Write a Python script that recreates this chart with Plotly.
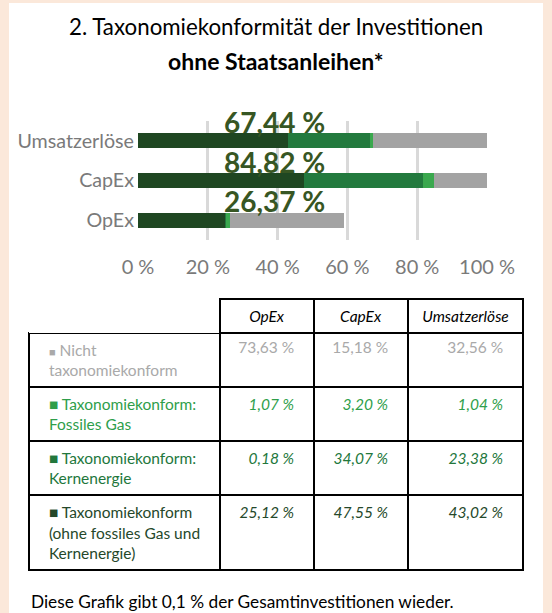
import plotly.graph_objects as go

# ---------------- data ----------------
categories = ["OpEx", "CapEx", "Umsatzerlöse"]
nicht_konform = [73.63, 15.18, 32.56]          # table values
fossiles_gas = [1.07, 3.20, 1.04]
kernenergie = [0.18, 34.07, 23.38]
ohne_gas_kern = [25.12, 47.55, 43.02]
# grey segment as it is drawn in the picture (OpEx bar ends at ~59 %)
nicht_konform_bar = [32.56, 15.18, 32.56]

tick_vals = [0, 20, 40, 60, 80, 100]
tick_text = ["0 %", "20 %", "40 %", "60 %", "80 %", "100 %"]

row_labels = [
    "<span style='font-size:11px'>■</span> Nicht<br>taxonomiekonform",
    "■ Taxonomiekonform:<br>Fossiles Gas",
    "■ Taxonomiekonform:<br>Kernenergie",
    "■ Taxonomiekonform<br>(ohne fossiles Gas und<br>Kernenergie)",
]
header_cols = ["", "OpEx", "CapEx", "Umsatzerlöse"]

title_line1 = "2. Taxonomiekonformität der Investitionen"
title_line2 = "ohne Staatsanleihen*"
footer = "Diese Grafik gibt 0,1 % der Gesamtinvestitionen wieder."

# ---------------- style ----------------
W, H = 552, 613
FONT = "Lato"
C_DARK = "#1F4722"
C_KERN = "#237A3E"
C_GAS = "#3AA84E"
C_GREY = "#A3A3A3"
C_LABEL = "#375623"
C_AXIS = "#7A7A7A"
T_GREY = "#A9A9A9"
T_GAS = "#2E9E4A"
T_KERN = "#22773C"
T_DARK = "#25482A"
TFS = 15.5


def px_x(p):
    return p / W


def px_y(p):
    return 1 - p / H


def fmt(v):
    return f"{v:.2f}".replace(".", ",") + " %"


fig = go.Figure()

series = [
    ("Taxonomiekonform (ohne fossiles Gas und Kernenergie)", ohne_gas_kern, C_DARK),
    ("Taxonomiekonform: Kernenergie", kernenergie, C_KERN),
    ("Taxonomiekonform: Fossiles Gas", fossiles_gas, C_GAS),
    ("Nicht taxonomiekonform", nicht_konform_bar, C_GREY),
]
for name, vals, col in series:
    fig.add_trace(go.Bar(
        y=categories, x=vals, orientation="h", name=name,
        marker=dict(color=col, line=dict(width=0)), width=0.38,
        hoverinfo="x+name",
    ))

# data labels: total taxonomy-conform share
for i, cat in enumerate(categories):
    total = ohne_gas_kern[i] + kernenergie[i] + fossiles_gas[i]
    fig.add_annotation(
        x=39.2, y=cat, xref="x", yref="y", text=f"<b>{fmt(total)}</b>",
        showarrow=False, yshift=19, font=dict(family=FONT, size=28, color=C_LABEL),
    )

# ---------------- table ----------------
nb = "\u00a0"
pad_l = nb * 3
pad_r = nb * 3
body_values = [[pad_l + t.replace("<br>", "<br>" + pad_l) for t in row_labels]]
for j in range(3):
    body_values.append([
        fmt(nicht_konform[j]) + pad_r,
        "<i>" + fmt(fossiles_gas[j]) + "</i>" + pad_r,
        "<i>" + fmt(kernenergie[j]) + "</i>" + pad_r,
        "<i>" + fmt(ohne_gas_kern[j]) + "</i>" + pad_r,
    ])

row_colors = [T_GREY, T_GAS, T_KERN, T_DARK]
fig.add_trace(go.Table(
    domain=dict(x=[px_x(29), px_x(523)], y=[px_y(590), px_y(299)]),
    columnwidth=[191, 94, 94, 115],
    header=dict(
        values=["<i>" + h + "</i>" if h else "" for h in header_cols],
        align="center",
        font=dict(family=FONT, size=TFS, color="black"),
        fill=dict(color="white"),
        line=dict(color="black", width=[0, 2, 2, 2]),
        height=26,
    ),
    cells=dict(
        values=body_values,
        align=["left", "right", "right", "right"],
        font=dict(family=FONT, size=TFS, color=[row_colors] * 4),
        fill=dict(color="white"),
        line=dict(color="black", width=2),
        height=25,
    ),
))

# ---------------- text ----------------
fig.add_annotation(x=0.5, y=px_y(26), xref="paper", yref="paper", text=title_line1,
                   showarrow=False, yanchor="middle",
                   font=dict(family=FONT, size=22.3, color="black"))
fig.add_annotation(x=0.5, y=px_y(61), xref="paper", yref="paper", text=f"<b>{title_line2}</b>",
                   showarrow=False, yanchor="middle",
                   font=dict(family=FONT, size=23, color="black"))
fig.add_annotation(x=px_x(29), y=px_y(601), xref="paper", yref="paper", text=footer,
                   showarrow=False, xanchor="left", yanchor="middle",
                   font=dict(family=FONT, size=17.3, color="black"))

# white panel
fig.add_shape(type="rect", xref="paper", yref="paper", x0=px_x(9), x1=px_x(543),
              y0=-0.01, y1=px_y(3), fillcolor="white", line=dict(width=0), layer="below")

fig.update_layout(
    width=W, height=H, margin=dict(l=0, r=0, t=0, b=0, autoexpand=False),
    paper_bgcolor="#FBE8DA", plot_bgcolor="rgba(0,0,0,0)",
    barmode="stack", showlegend=False,
    font=dict(family=FONT),
    xaxis=dict(domain=[px_x(138), px_x(487)], range=[0, 100], tickvals=tick_vals,
               ticktext=tick_text, showgrid=True, gridcolor="#D9D9D9", gridwidth=2.5,
               zeroline=False, showline=False, ticks="", ticklabelstandoff=13,
               automargin=False,
               tickfont=dict(family=FONT, size=20, color=C_AXIS), fixedrange=True),
    yaxis=dict(domain=[px_y(240), px_y(121)], range=[-0.5, 2.5], showgrid=False,
               zeroline=False, showline=False, ticks="", ticklabelstandoff=3,
               automargin=False,
               tickfont=dict(family=FONT, size=19.7, color=C_AXIS), fixedrange=True),
)

fig.write_html(
    "out.html",
    config={"displayModeBar": False},
    post_script="document.body.style.margin='0';document.body.style.overflow='hidden';",
)
